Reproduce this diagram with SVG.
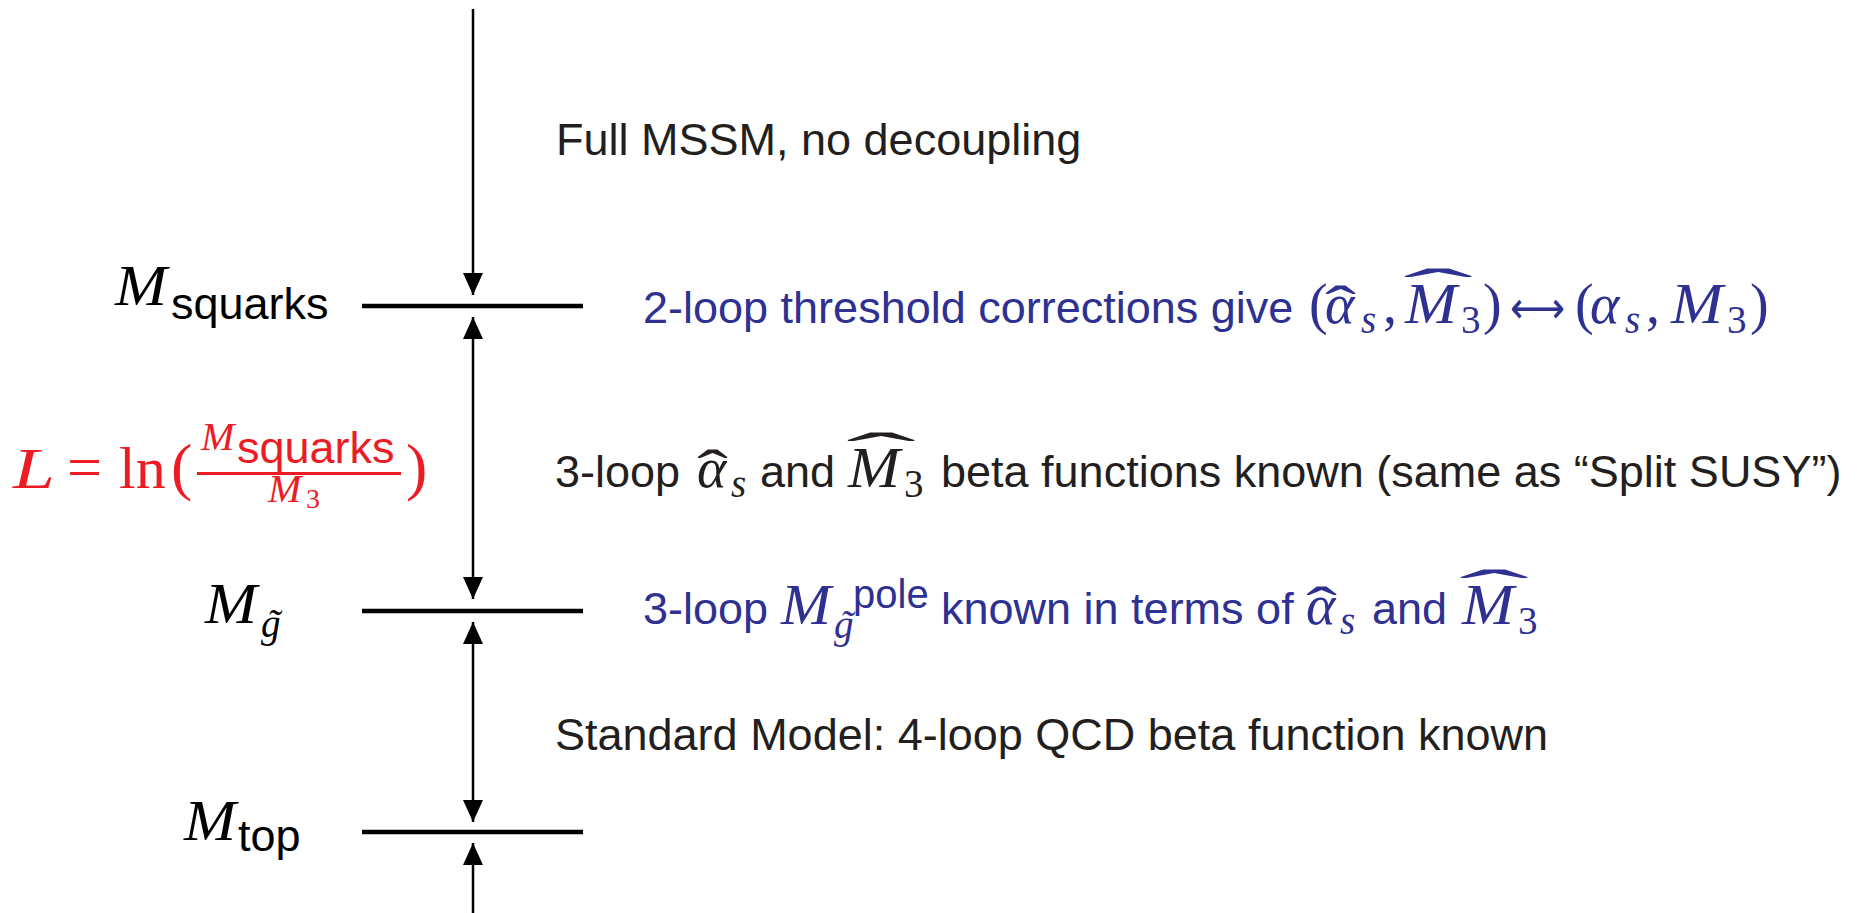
<svg xmlns="http://www.w3.org/2000/svg" width="1868" height="913" viewBox="0 0 1868 913">
<defs>
<style>
.s{font-family:"Liberation Sans",Arial,Helvetica,sans-serif;font-size:45px;font-style:normal}
.mi{font-family:"Liberation Serif","Times New Roman",serif;font-style:italic;font-size:56px}
.mr{font-family:"Liberation Serif","Times New Roman",serif;font-style:normal;font-size:56px}
.sub{font-size:39px}
.ar{font-family:"DejaVu Sans",sans-serif;font-style:normal;font-size:44px}
.k{fill:#231f20}
.bl{fill:#2e3192}
.rd{fill:#ed1c24}
.lvl{stroke:#000;stroke-width:4.5;fill:none}
.con{stroke:#000;stroke-width:2.5;fill:none}
</style>
<marker id="ah" markerUnits="userSpaceOnUse" markerWidth="22" markerHeight="20" viewBox="0 0 22 20" refX="22" refY="10" orient="auto-start-reverse">
<path d="M0,0 L22,10 L0,20 z" fill="#000"/>
</marker>
</defs>
<rect width="1868" height="913" fill="#fff"/>

<g id="connectors">
<path class="con" d="M473,9 L473,295" marker-end="url(#ah)"/>
<path class="con" d="M473,317 L473,599" marker-start="url(#ah)" marker-end="url(#ah)"/>
<path class="con" d="M473,622 L473,822" marker-start="url(#ah)" marker-end="url(#ah)"/>
<path class="con" d="M473,843 L473,913" marker-start="url(#ah)"/>
</g>

<g id="level-squarks">
<line class="lvl" x1="362" y1="306" x2="583" y2="306"/>
<text class="mi" fill="#000"><tspan x="115" y="305" textLength="52" lengthAdjust="spacingAndGlyphs">M</tspan><tspan class="s" x="171" y="319">squarks</tspan></text>
</g>

<g id="level-gluino">
<line class="lvl" x1="362" y1="611" x2="583" y2="611"/>
<text class="mi" fill="#000"><tspan x="205" y="623" textLength="52" lengthAdjust="spacingAndGlyphs">M</tspan><tspan class="sub" x="261" y="637">g</tspan><tspan class="sub" x="267" y="637">˜</tspan></text>
</g>

<g id="level-top">
<line class="lvl" x1="362" y1="832" x2="583" y2="832"/>
<text class="mi" fill="#000"><tspan x="184" y="840" textLength="52" lengthAdjust="spacingAndGlyphs">M</tspan><tspan class="s" x="238" y="851">top</tspan></text>
</g>

<g id="log-formula" class="rd">
<line x1="197" y1="473.5" x2="401" y2="473.5" stroke="#ed1c24" stroke-width="2.8"/>
<text class="mi"><tspan x="13" y="488" style="font-size:58px" textLength="42" lengthAdjust="spacingAndGlyphs">L</tspan><tspan class="mr" x="67" y="488" style="font-size:62px">=</tspan><tspan class="mr" x="119" y="488" style="font-size:60px">ln</tspan><tspan class="mr" x="171" y="488" style="font-size:64px">(</tspan><tspan x="201" y="450" style="font-size:40px">M</tspan><tspan class="s" x="237" y="463">squarks</tspan><tspan x="268" y="502" style="font-size:40px">M</tspan><tspan class="mr" x="306" y="508" style="font-size:28px">3</tspan><tspan class="mr" x="406" y="488" style="font-size:64px">)</tspan></text>
</g>

<g id="region-mssm">
<text class="s k" x="556" y="155">Full MSSM, no decoupling</text>
</g>

<g id="threshold" class="bl">
<text class="s"><tspan x="643" y="323">2-loop threshold corrections give</tspan><tspan class="mr" x="1309" y="323">(</tspan><tspan class="mi" x="1325" y="323">α</tspan><tspan class="mr" x="1325" y="325" textLength="31" lengthAdjust="spacingAndGlyphs">ˆ</tspan><tspan class="mi sub" x="1361" y="333">s</tspan><tspan class="mr" x="1383" y="323">,</tspan><tspan class="mi" x="1405" y="323" textLength="52" lengthAdjust="spacingAndGlyphs">M</tspan><tspan class="mr" x="1403" y="308" textLength="70" lengthAdjust="spacingAndGlyphs">ˆ</tspan><tspan class="mr sub" x="1461" y="333">3</tspan><tspan class="mr" x="1483" y="323">)</tspan><tspan class="ar" x="1510" y="323" textLength="55" lengthAdjust="spacingAndGlyphs">⟷</tspan><tspan class="mr" x="1575" y="323">(</tspan><tspan class="mi" x="1590" y="323">α</tspan><tspan class="mi sub" x="1625" y="333">s</tspan><tspan class="mr" x="1646" y="323">,</tspan><tspan class="mi" x="1671" y="323" textLength="52" lengthAdjust="spacingAndGlyphs">M</tspan><tspan class="mr sub" x="1727" y="333">3</tspan><tspan class="mr" x="1750" y="323">)</tspan></text>
</g>

<g id="region-split" class="k">
<text class="s"><tspan x="555" y="487">3-loop</tspan><tspan class="mi" x="697" y="487">α</tspan><tspan class="mr" x="697" y="489" textLength="31" lengthAdjust="spacingAndGlyphs">ˆ</tspan><tspan class="mi sub" x="731" y="497">s</tspan><tspan x="760" y="487">and</tspan><tspan class="mi" x="848" y="487" textLength="52" lengthAdjust="spacingAndGlyphs">M</tspan><tspan class="mr" x="846" y="472" textLength="70" lengthAdjust="spacingAndGlyphs">ˆ</tspan><tspan class="mr sub" x="904" y="497">3</tspan><tspan x="941" y="487">beta functions known (same as “Split SUSY”)</tspan></text>
</g>

<g id="gluino-pole" class="bl">
<text class="s"><tspan x="643" y="624">3-loop</tspan><tspan class="mi" x="781" y="624" textLength="50" lengthAdjust="spacingAndGlyphs">M</tspan><tspan class="mi sub" x="834" y="638">g</tspan><tspan class="mi sub" x="840" y="638">˜</tspan><tspan x="853" y="608" style="font-size:40px">pole</tspan><tspan x="941" y="624">known in terms of</tspan><tspan class="mi" x="1306" y="624">α</tspan><tspan class="mr" x="1306" y="626" textLength="31" lengthAdjust="spacingAndGlyphs">ˆ</tspan><tspan class="mi sub" x="1340" y="634">s</tspan><tspan x="1372" y="624">and</tspan><tspan class="mi" x="1462" y="624" textLength="52" lengthAdjust="spacingAndGlyphs">M</tspan><tspan class="mr" x="1459" y="609" textLength="70" lengthAdjust="spacingAndGlyphs">ˆ</tspan><tspan class="mr sub" x="1518" y="634">3</tspan></text>
</g>

<g id="region-sm">
<text class="s k" x="555" y="750">Standard Model: 4-loop QCD beta function known</text>
</g>
</svg>
